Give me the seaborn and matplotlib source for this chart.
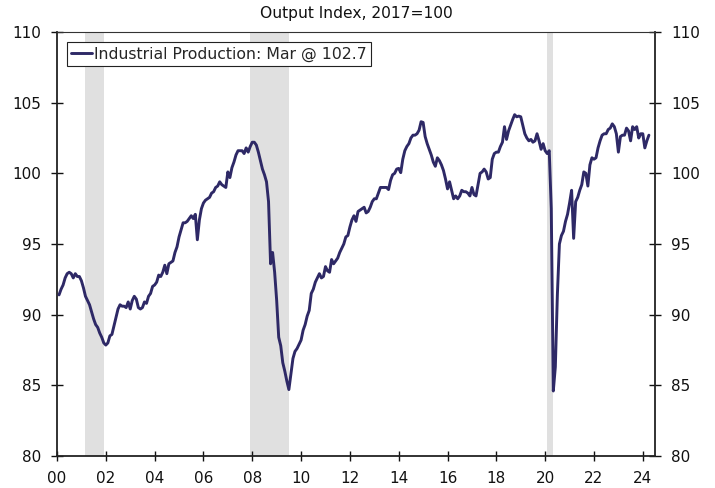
import numpy as np
import pandas as pd
import matplotlib
matplotlib.use("Agg")
import matplotlib.pyplot as plt
import seaborn as sns

# Monthly Industrial Production index (2017=100), Jan 2000 - Mar 2024
ip_2000 = [91.4, 91.8, 92.1, 92.6, 92.9, 93.0, 92.9, 92.6, 92.9, 92.7, 92.7, 92.4]
ip_2001 = [91.9, 91.3, 91.0, 90.7, 90.2, 89.7, 89.3, 89.1, 88.7, 88.4, 88.0, 87.85]
ip_2002 = [88.0, 88.5, 88.6, 89.2, 89.8, 90.4, 90.7, 90.6, 90.6, 90.5, 90.9, 90.4]
ip_2003 = [91.0, 91.3, 91.1, 90.5, 90.4, 90.5, 90.9, 90.8, 91.3, 91.5, 92.0, 92.1]
ip_2004 = [92.3, 92.8, 92.7, 93.0, 93.5, 92.9, 93.6, 93.7, 93.8, 94.4, 94.8, 95.5]
ip_2005 = [96.0, 96.5, 96.5, 96.6, 96.8, 97.0, 96.8, 97.1, 95.3, 96.7, 97.5, 97.9]
ip_2006 = [98.1, 98.2, 98.3, 98.6, 98.7, 99.0, 99.1, 99.4, 99.2, 99.1, 99.0, 100.1]
ip_2007 = [99.7, 100.4, 100.8, 101.3, 101.6, 101.6, 101.6, 101.4, 101.8, 101.5, 101.9, 102.2]
ip_2008 = [102.2, 102.0, 101.5, 100.9, 100.3, 99.9, 99.4, 98.0, 93.6, 94.4, 93.0, 91.0]
ip_2009 = [88.4, 87.8, 86.6, 86.0, 85.3, 84.7, 85.8, 86.9, 87.4, 87.6, 87.9, 88.2]
ip_2010 = [88.9, 89.3, 89.9, 90.3, 91.5, 91.8, 92.3, 92.6, 92.9, 92.6, 92.7, 93.4]
ip_2011 = [93.1, 93.0, 93.9, 93.6, 93.8, 94.0, 94.4, 94.7, 95.0, 95.5, 95.6, 96.2]
ip_2012 = [96.7, 97.0, 96.6, 97.3, 97.4, 97.5, 97.6, 97.2, 97.3, 97.6, 98.0, 98.2]
ip_2013 = [98.2, 98.6, 99.0, 99.0, 99.0, 99.0, 98.85, 99.5, 99.9, 100.0, 100.3, 100.35]
ip_2014 = [100.05, 101.0, 101.6, 101.9, 102.1, 102.5, 102.7, 102.7, 102.8, 103.05, 103.65, 103.6]
ip_2015 = [102.6, 102.1, 101.7, 101.3, 100.8, 100.5, 101.1, 100.9, 100.6, 100.2, 99.6, 98.9]
ip_2016 = [99.4, 98.8, 98.2, 98.4, 98.2, 98.4, 98.8, 98.7, 98.7, 98.6, 98.4, 99.0]
ip_2017 = [98.5, 98.4, 99.2, 100.0, 100.1, 100.3, 100.1, 99.6, 99.7, 101.0, 101.4, 101.5]
ip_2018 = [101.5, 101.9, 102.2, 103.3, 102.4, 103.0, 103.4, 103.8, 104.15, 104.0, 104.05, 104.0]
ip_2019 = [103.4, 102.8, 102.5, 102.3, 102.4, 102.2, 102.3, 102.8, 102.3, 101.7, 102.1, 101.6]
ip_2020 = [101.4, 101.6, 97.5, 84.6, 86.3, 91.4, 95.0, 95.6, 95.9, 96.6, 97.1, 97.9]
ip_2021 = [98.8, 95.4, 98.0, 98.3, 98.8, 99.2, 100.1, 100.0, 99.1, 100.6, 101.1, 101.0]
ip_2022 = [101.1, 101.8, 102.3, 102.7, 102.8, 102.8, 103.1, 103.2, 103.5, 103.3, 102.8, 101.5]
ip_2023 = [102.6, 102.7, 102.7, 103.2, 103.0, 102.3, 103.3, 103.1, 103.3, 102.5, 102.8, 102.8]
ip_2024 = [101.8, 102.3, 102.7]

recessions = [("2001-03", "2001-11"), ("2007-12", "2009-06"), ("2020-02", "2020-04")]
tick_years = list(range(2000, 2025, 2))
tick_labels = [f"{y % 100:02d}" for y in tick_years]
y_ticks = [80, 85, 90, 95, 100, 105, 110]

title = "Output Index, 2017=100"
label = "Industrial Production: Mar @ 102.7"

values = (ip_2000 + ip_2001 + ip_2002 + ip_2003 + ip_2004 + ip_2005 + ip_2006 +
          ip_2007 + ip_2008 + ip_2009 + ip_2010 + ip_2011 + ip_2012 + ip_2013 +
          ip_2014 + ip_2015 + ip_2016 + ip_2017 + ip_2018 + ip_2019 + ip_2020 +
          ip_2021 + ip_2022 + ip_2023 + ip_2024)
dates = pd.date_range("2000-01-01", periods=len(values), freq="MS")


def frac_year(ts):
    ts = pd.Timestamp(ts)
    return ts.year + ts.month / 12.0


df = pd.DataFrame({"t": [frac_year(d) for d in dates], "ip": values})

sns.set_style("ticks")
plt.rcParams["font.family"] = ["DejaVu Sans"]

fig = plt.figure(figsize=(7.15, 4.88), dpi=100)
ax = fig.add_axes([57 / 715, 32 / 488, 598 / 715, 424 / 488])

for a, b in recessions:
    ta = frac_year(pd.Timestamp(a + "-01")) - 1 / 12.0
    tb = frac_year(pd.Timestamp(b + "-01"))
    ax.axvspan(ta, tb, color="#E0E0E0", lw=0, zorder=0)

sns.lineplot(data=df, x="t", y="ip", ax=ax, color="#2E2966", lw=2.1, label=label, zorder=3)

ax.set_xlim(2000.0, 2024.5)
ax.set_ylim(80, 110)
ax.set_xticks(tick_years)
ax.set_xticklabels(tick_labels)
ax.set_yticks(y_ticks)
ax.set_xlabel("")
ax.set_ylabel("")

ax.tick_params(axis="both", labelsize=11, colors="#111111")
ax.tick_params(axis="x", direction="inout", length=7, width=1.0, pad=7)
ax.tick_params(axis="y", which="both", left=True, right=True, labelleft=True,
               labelright=True, direction="inout", length=8, width=1.0, pad=7.5)

for s in ["left", "right", "bottom"]:
    ax.spines[s].set_visible(True)
    ax.spines[s].set_linewidth(1.3)
    ax.spines[s].set_color("#222222")
ax.spines["top"].set_visible(True)
ax.spines["top"].set_linewidth(0.8)
ax.spines["top"].set_color("#333333")

ax.set_title(title, fontsize=11.2, pad=10, color="#111111")

leg = ax.legend(loc="upper left", bbox_to_anchor=(0.0167, 0.976), borderaxespad=0,
                fancybox=False, edgecolor="#222222", framealpha=1, fontsize=11.3,
                handlelength=1.3, handletextpad=0.12, borderpad=0.28)
leg.get_frame().set_linewidth(0.8)

fig.savefig("out.png", dpi=100)
